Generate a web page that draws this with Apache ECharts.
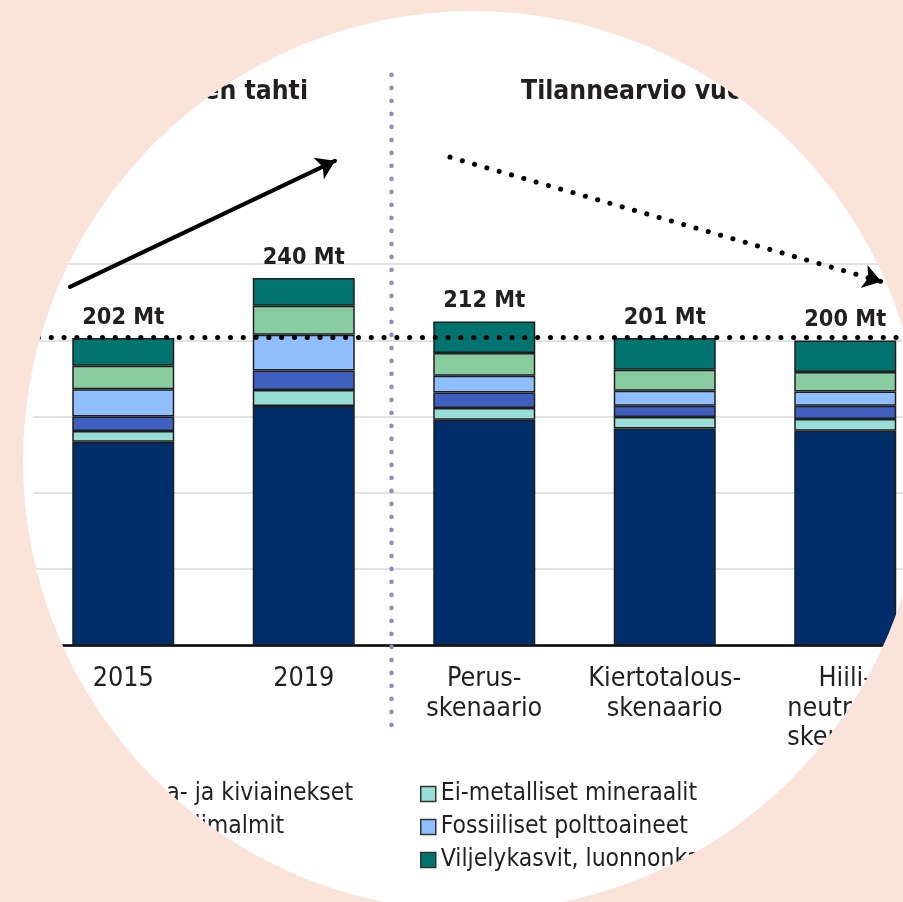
<!DOCTYPE html>
<html>
<head>
<meta charset="utf-8">
<script src="https://cdn.jsdelivr.net/npm/echarts@6.0.0/dist/echarts.min.js"></script>
<style>
html,body{margin:0;padding:0;background:#fae3d9;}
#chart{width:903px;height:902px;}
</style>
</head>
<body>
<div id="chart"></div>
<script>
// ---- data ----
var categories = ['2015', '2019', 'Perus-\nskenaario', 'Kiertotalous-\nskenaario', 'Hiili-\nneutraali-\nskenaario'];
var totals = ['202 Mt', '240 Mt', '212 Mt', '201 Mt', '200 Mt'];
var seriesNames = ['Maa- ja kiviainekset', 'Ei-metalliset mineraalit', 'Metallimalmit', 'Fossiiliset polttoaineet', 'Puu', 'Viljelykasvit, luonnonkasvit ja rehut'];
var maaKivi = [133.6, 157.0, 147.9, 142.2, 140.7];
var eiMetalliset = [7.0, 10.5, 7.7, 7.5, 7.7];
var metallimalmit = [9.4, 12.7, 10.2, 7.4, 8.7];
var fossiiliset = [18.0, 23.4, 10.9, 9.8, 9.4];
var puu = [15.3, 19.0, 14.9, 13.8, 12.7];
var viljelykasvit = [18.2, 18.2, 20.7, 20.8, 20.7];
var yTicks = [0, 50, 100, 150, 200, 250];
var titleLeft = 'Nykyinen tahti';
var titleRight = 'Tilannearvio vuonna 2035';
// annotation lines in data space (x: category index, y: Mt)
var level2015 = [[-0.47, 202], [4.7, 202]];
var riseArrow = [[-0.295, 235], [1.173, 317.6]];
var fallArrow = [[1.81, 320], [4.2, 238.5]];
var divider = [[1.483, 374], [1.483, -58.6]];

var colors = ['#002e6b', '#99ded6', '#4060c0', '#8fbfff', '#88cca0', '#00736e'];
var values = [maaKivi, eiMetalliset, metallimalmit, fossiiliset, puu, viljelykasvit];
var TXT = '#231f20';

// ---- font choice & sizing (fit to the reference text widths) ----
var ctx = document.createElement('canvas').getContext('2d');
function hasFont(name) {
  var s = 'mmmmmmmmmmlli WWW 0123 Kiertotalous';
  var res = false;
  ['monospace', 'serif'].forEach(function (fb) {
    ctx.font = '72px ' + fb; var a = ctx.measureText(s).width;
    ctx.font = '72px "' + name + '", ' + fb; var b = ctx.measureText(s).width;
    if (a !== b) res = true;
  });
  return res;
}
var family = 'Roboto';
['Liberation Sans Narrow', 'DejaVu Sans Condensed', 'Roboto Condensed', 'Roboto'].some(function (f) {
  if (hasFont(f)) { family = f; return true; } return false;
});
var FONT = '"' + family + '", "Liberation Sans", sans-serif';
function measure(text, size, weight) {
  ctx.font = (weight || 'normal') + ' ' + size + 'px ' + FONT;
  return ctx.measureText(text).width;
}
function fit(text, target, weight) {
  return Math.round(100 * target / measure(text, 100, weight) * 10) / 10;
}
var axisSize = fit('Kiertotalous-', 153);
var valueSize = fit('240 Mt', 82, 'bold');
var titleSize = fit('Tilannearvio vuo', 222, 'bold');
var legendSize = fit('Ei-metalliset mineraalit', 256);
var leftLegendX = Math.round(352 - measure(seriesNames[0], legendSize) - 5 - 15);

var chart = echarts.init(document.getElementById('chart'), null, {renderer: 'canvas'});

var barSeries = values.map(function (v, i) {
  var s = {
    name: seriesNames[i],
    type: 'bar',
    stack: 'total',
    data: v,
    barWidth: 102,
    itemStyle: {color: colors[i], borderColor: '#1e1e1e', borderWidth: 1.5},
    emphasis: {disabled: true}
  };
  if (i === values.length - 1) {
    s.label = {
      show: true, position: 'top', distance: 9,
      formatter: function (p) { return totals[p.dataIndex]; },
      fontFamily: FONT, fontWeight: 'bold', fontSize: valueSize, color: TXT
    };
  }
  return s;
});

function dotted(coords, color, width, gap, arrow) {
  return {
    type: 'lines', coordinateSystem: 'cartesian2d', xAxisIndex: 1, yAxisIndex: 0,
    clip: false, silent: true, z: 5,
    symbol: arrow ? ['none', 'arrow'] : ['none', 'none'],
    symbolSize: 18,
    lineStyle: {color: color, width: width, opacity: 1, type: gap ? [0.1, gap] : 'solid', cap: 'round'},
    data: [{coords: coords}]
  };
}

var legendCommon = {
  orient: 'vertical', top: 780, padding: 0, itemGap: 5, itemWidth: 15, itemHeight: 15,
  icon: 'rect', selectedMode: false,
  itemStyle: {borderColor: '#333', borderWidth: 1.5},
  textStyle: {fontFamily: FONT, fontSize: legendSize, lineHeight: 28, color: TXT}
};

var option = {
  animation: false,
  backgroundColor: '#ffffff',
  title: [
    {text: titleLeft, right: 595, top: 79, padding: 0,
     textStyle: {fontFamily: FONT, fontWeight: 'bold', fontSize: titleSize, color: TXT}},
    {text: titleRight, left: 521, top: 79, padding: 0,
     textStyle: {fontFamily: FONT, fontWeight: 'bold', fontSize: titleSize, color: TXT}}
  ],
  legend: [
    echarts.util.merge({data: [seriesNames[0], seriesNames[2], seriesNames[4]], left: leftLegendX}, legendCommon),
    echarts.util.merge({data: [seriesNames[1], seriesNames[3], seriesNames[5]], left: 420}, legendCommon)
  ],
  grid: {left: 33, width: 902.5, top: 264, bottom: 256.5, containLabel: false, outerBoundsMode: 'none'},
  xAxis: [
    {type: 'category', data: categories,
     axisLine: {lineStyle: {color: '#000', width: 2.5}},
     axisTick: {show: false},
     axisLabel: {interval: 0, margin: 19, hideOverlap: false, fontFamily: FONT, fontSize: axisSize, lineHeight: 29.5, color: TXT}},
    {type: 'value', min: -0.5, max: 4.5, show: false, splitLine: {show: false}}
  ],
  yAxis: {
    type: 'value', min: yTicks[0], max: yTicks[yTicks.length - 1], interval: yTicks[1] - yTicks[0],
    axisLine: {show: false}, axisTick: {show: false}, axisLabel: {show: false},
    splitLine: {lineStyle: {color: '#d9d9d9', width: 1.5}}
  },
  series: barSeries.concat([
    dotted(divider, '#8c91b4', 4.5, 12.9, false),
    dotted(level2015, '#000000', 5, 12.7, false),
    dotted(riseArrow, '#000000', 4, 0, true),
    dotted(fallArrow, '#000000', 5, 12.7, true)
  ]),
  graphic: [
    {type: 'ring', z: 100, silent: true,
     shape: {cx: 473, cy: 461, r: 1400, r0: 450},
     style: {fill: '#fae3d9'}}
  ]
};
chart.setOption(option);
</script>
</body>
</html>
